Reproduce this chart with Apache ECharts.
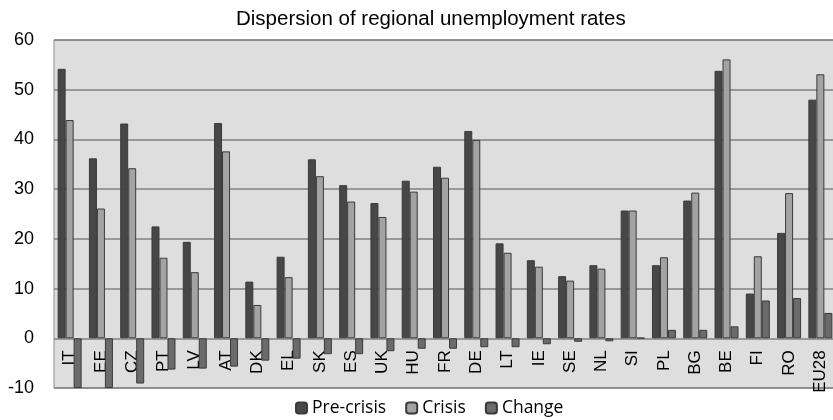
<!DOCTYPE html>
<html><head><meta charset="utf-8">
<script src="https://cdn.jsdelivr.net/npm/echarts@6/dist/echarts.min.js"></script>
<style>html,body{margin:0;padding:0;background:#fff}#c{width:833px;height:420px}</style>
</head><body><div id="c"></div>
<script>
const categories = ['IT','EE','CZ','PT','LV','AT','DK','EL','SK','ES','UK','HU','FR','DE','LT','IE','SE','NL','SI','PL','BG','BE','FI','RO','EU28'];
const preCrisis = [54.2,36.2,43.2,22.5,19.4,43.3,11.4,16.4,36.0,30.8,27.2,31.7,34.5,41.7,19.1,15.7,12.5,14.7,25.7,14.7,27.7,53.8,9.0,21.2,48.0];
const crisis    = [43.9,26.1,34.2,16.2,13.3,37.6,6.7,12.3,32.6,27.5,24.4,29.5,32.3,39.9,17.2,14.4,11.6,14.0,25.7,16.3,29.3,56.1,16.5,29.2,53.1];
const change    = [-10.0,-10.0,-9.1,-6.3,-6.1,-5.7,-4.5,-4.1,-3.2,-3.2,-2.6,-2.1,-2.1,-1.8,-1.8,-1.2,-0.7,-0.6,0.1,1.7,1.7,2.4,7.6,8.1,5.1];
const yTicks = {min:-10, max:60, interval:10};

const chart = echarts.init(document.getElementById('c'), null, {renderer:'canvas'});
const gridTop = 40, gridBottom = 32, H = 420;
const plotH = H - gridTop - gridBottom;
const zeroOffset = plotH * (0 - yTicks.min) / (yTicks.max - yTicks.min);
const bar = (name, data, color) => ({
  name, type:'bar', data, barWidth:8, barGap:'0%',
  itemStyle:{color, borderColor:'#3a3a3a', borderWidth:1}
});
chart.setOption({
  animation:false,
  title:{text:'Dispersion of regional unemployment rates', left:231, top:4,
    textStyle:{fontFamily:'Liberation Sans', fontSize:20.5, fontWeight:'normal', color:'#000'}},
  legend:{top:399, left:295, itemWidth:11, itemHeight:11, itemGap:19, padding:0,
    textStyle:{fontFamily:'Open Sans', fontSize:17.5, color:'#000'},
    data:['Pre-crisis','Crisis','Change']},
  grid:{left:54, right:-3, top:gridTop, bottom:gridBottom, outerBoundsMode:'none', containLabel:false,
    show:true, backgroundColor:'#dedede', borderColor:'#8c8c8c', borderWidth:1},
  xAxis:{type:'category', data:categories, offset:-zeroOffset,
    axisLine:{show:false, onZero:false},
    axisTick:{show:false},
    axisLabel:{rotate:90, margin:12, fontFamily:'Liberation Sans', fontSize:17, color:'#000', interval:0},
    splitLine:{show:false}},
  yAxis:{type:'value', min:yTicks.min, max:yTicks.max, interval:yTicks.interval,
    axisLine:{show:false}, axisTick:{show:false},
    axisLabel:{fontFamily:'Liberation Sans', fontSize:18, color:'#000', margin:20},
    splitLine:{lineStyle:{color:'#808080', width:1.5}}},
  series:[
    bar('Pre-crisis', preCrisis, '#474747'),
    bar('Crisis', crisis, '#a3a3a3'),
    bar('Change', change, '#6b6b6b')
  ]
});
</script></body></html>
